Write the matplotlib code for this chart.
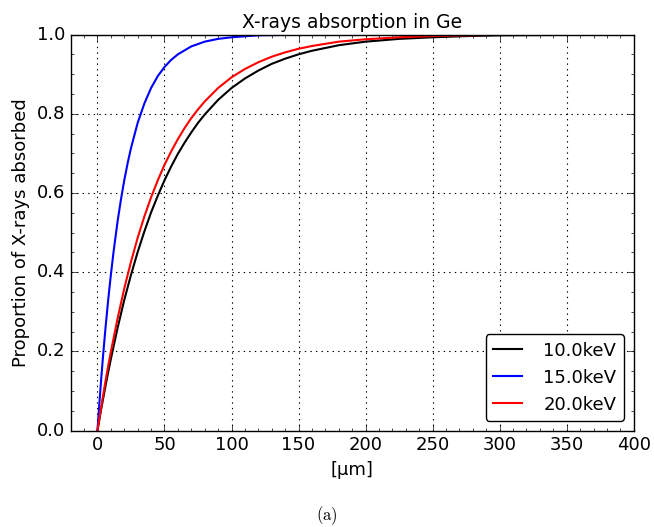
import matplotlib
matplotlib.use("Agg")
import matplotlib.pyplot as plt
from matplotlib.ticker import MultipleLocator

plt.style.use('classic')
plt.rcParams['mathtext.fontset'] = 'cm'

# Values (depth in µm, proportion absorbed)
x_10 = [0, 2.5, 5, 7.5, 10, 15, 20, 25, 30, 35, 40, 45, 50, 55, 60, 65, 70, 75, 80,
        90, 100, 110, 120, 130, 140, 150, 160, 180, 200, 225, 250, 275, 300, 350, 400]
y_10 = [0, 0.049, 0.095, 0.139, 0.181, 0.259, 0.330, 0.393, 0.451, 0.503, 0.551,
        0.593, 0.632, 0.667, 0.699, 0.727, 0.753, 0.777, 0.798, 0.835, 0.865,
        0.889, 0.909, 0.926, 0.939, 0.950, 0.959, 0.973, 0.982, 0.989, 0.993,
        0.996, 0.998, 0.999, 1.0]

x_15 = [0, 1, 2, 3, 4, 5, 6, 8, 10, 12, 15, 17.5, 20, 22.5, 25, 30, 35, 40, 45, 50,
        55, 60, 70, 80, 90, 100, 120, 140, 160, 200, 300, 400]
y_15 = [0, 0.049, 0.095, 0.139, 0.181, 0.221, 0.259, 0.330, 0.393, 0.451, 0.528,
        0.583, 0.632, 0.675, 0.713, 0.777, 0.826, 0.865, 0.895, 0.918, 0.936,
        0.950, 0.970, 0.982, 0.989, 0.993, 0.998, 0.999, 1.0, 1.0, 1.0, 1.0]

x_20 = [0, 2.5, 5, 7.5, 10, 15, 20, 25, 30, 35, 40, 45, 50, 55, 60, 65, 70, 75, 80,
        90, 100, 110, 120, 130, 140, 150, 160, 180, 200, 225, 250, 275, 300, 350, 400]
y_20 = [0, 0.054, 0.105, 0.154, 0.199, 0.283, 0.359, 0.426, 0.487, 0.541, 0.589,
        0.632, 0.671, 0.705, 0.736, 0.764, 0.789, 0.811, 0.831, 0.865, 0.892,
        0.913, 0.930, 0.944, 0.955, 0.964, 0.971, 0.982, 0.988, 0.993, 0.996,
        0.998, 0.999, 1.0, 1.0]

labels = ['10.0keV', '15.0keV', '20.0keV']
colors = ['black', 'blue', 'red']

fig = plt.figure(figsize=(6.54, 5.27), dpi=100, facecolor='white')
ax = fig.add_axes([0.108, 0.1827, 0.861, 0.7518])

for xs, ys, lab, c in zip([x_10, x_15, x_20], [y_10, y_15, y_20], labels, colors):
    ax.plot(xs, ys, color=c, lw=1.5, label=lab)

ax.set_xlim(-20, 400)
ax.set_ylim(0, 1.0)
ax.xaxis.set_major_locator(MultipleLocator(50))
ax.xaxis.set_minor_locator(MultipleLocator(10))
ax.yaxis.set_major_locator(MultipleLocator(0.2))
ax.yaxis.set_minor_locator(MultipleLocator(0.05))
ax.grid(True, which='major', linestyle=':', color='black', linewidth=0.8)
ax.set_axisbelow(True)

ax.set_title('X-rays absorption in Ge', fontsize=13.5)
ax.set_xlabel('[µm]', fontsize=13)
ax.set_ylabel('Proportion of X-rays absorbed', fontsize=13)
ax.tick_params(labelsize=13)

leg = ax.legend(loc='lower right', fancybox=True, fontsize=13, numpoints=1,
                handlelength=1.6, handletextpad=1.2, borderaxespad=0.55)
leg.get_frame().set_edgecolor('black')

fig.text(0.5, 0.021, r'$\mathrm{(a)}$', ha='center', va='center', fontsize=12)

fig.savefig('out.png', dpi=100, facecolor='white')
